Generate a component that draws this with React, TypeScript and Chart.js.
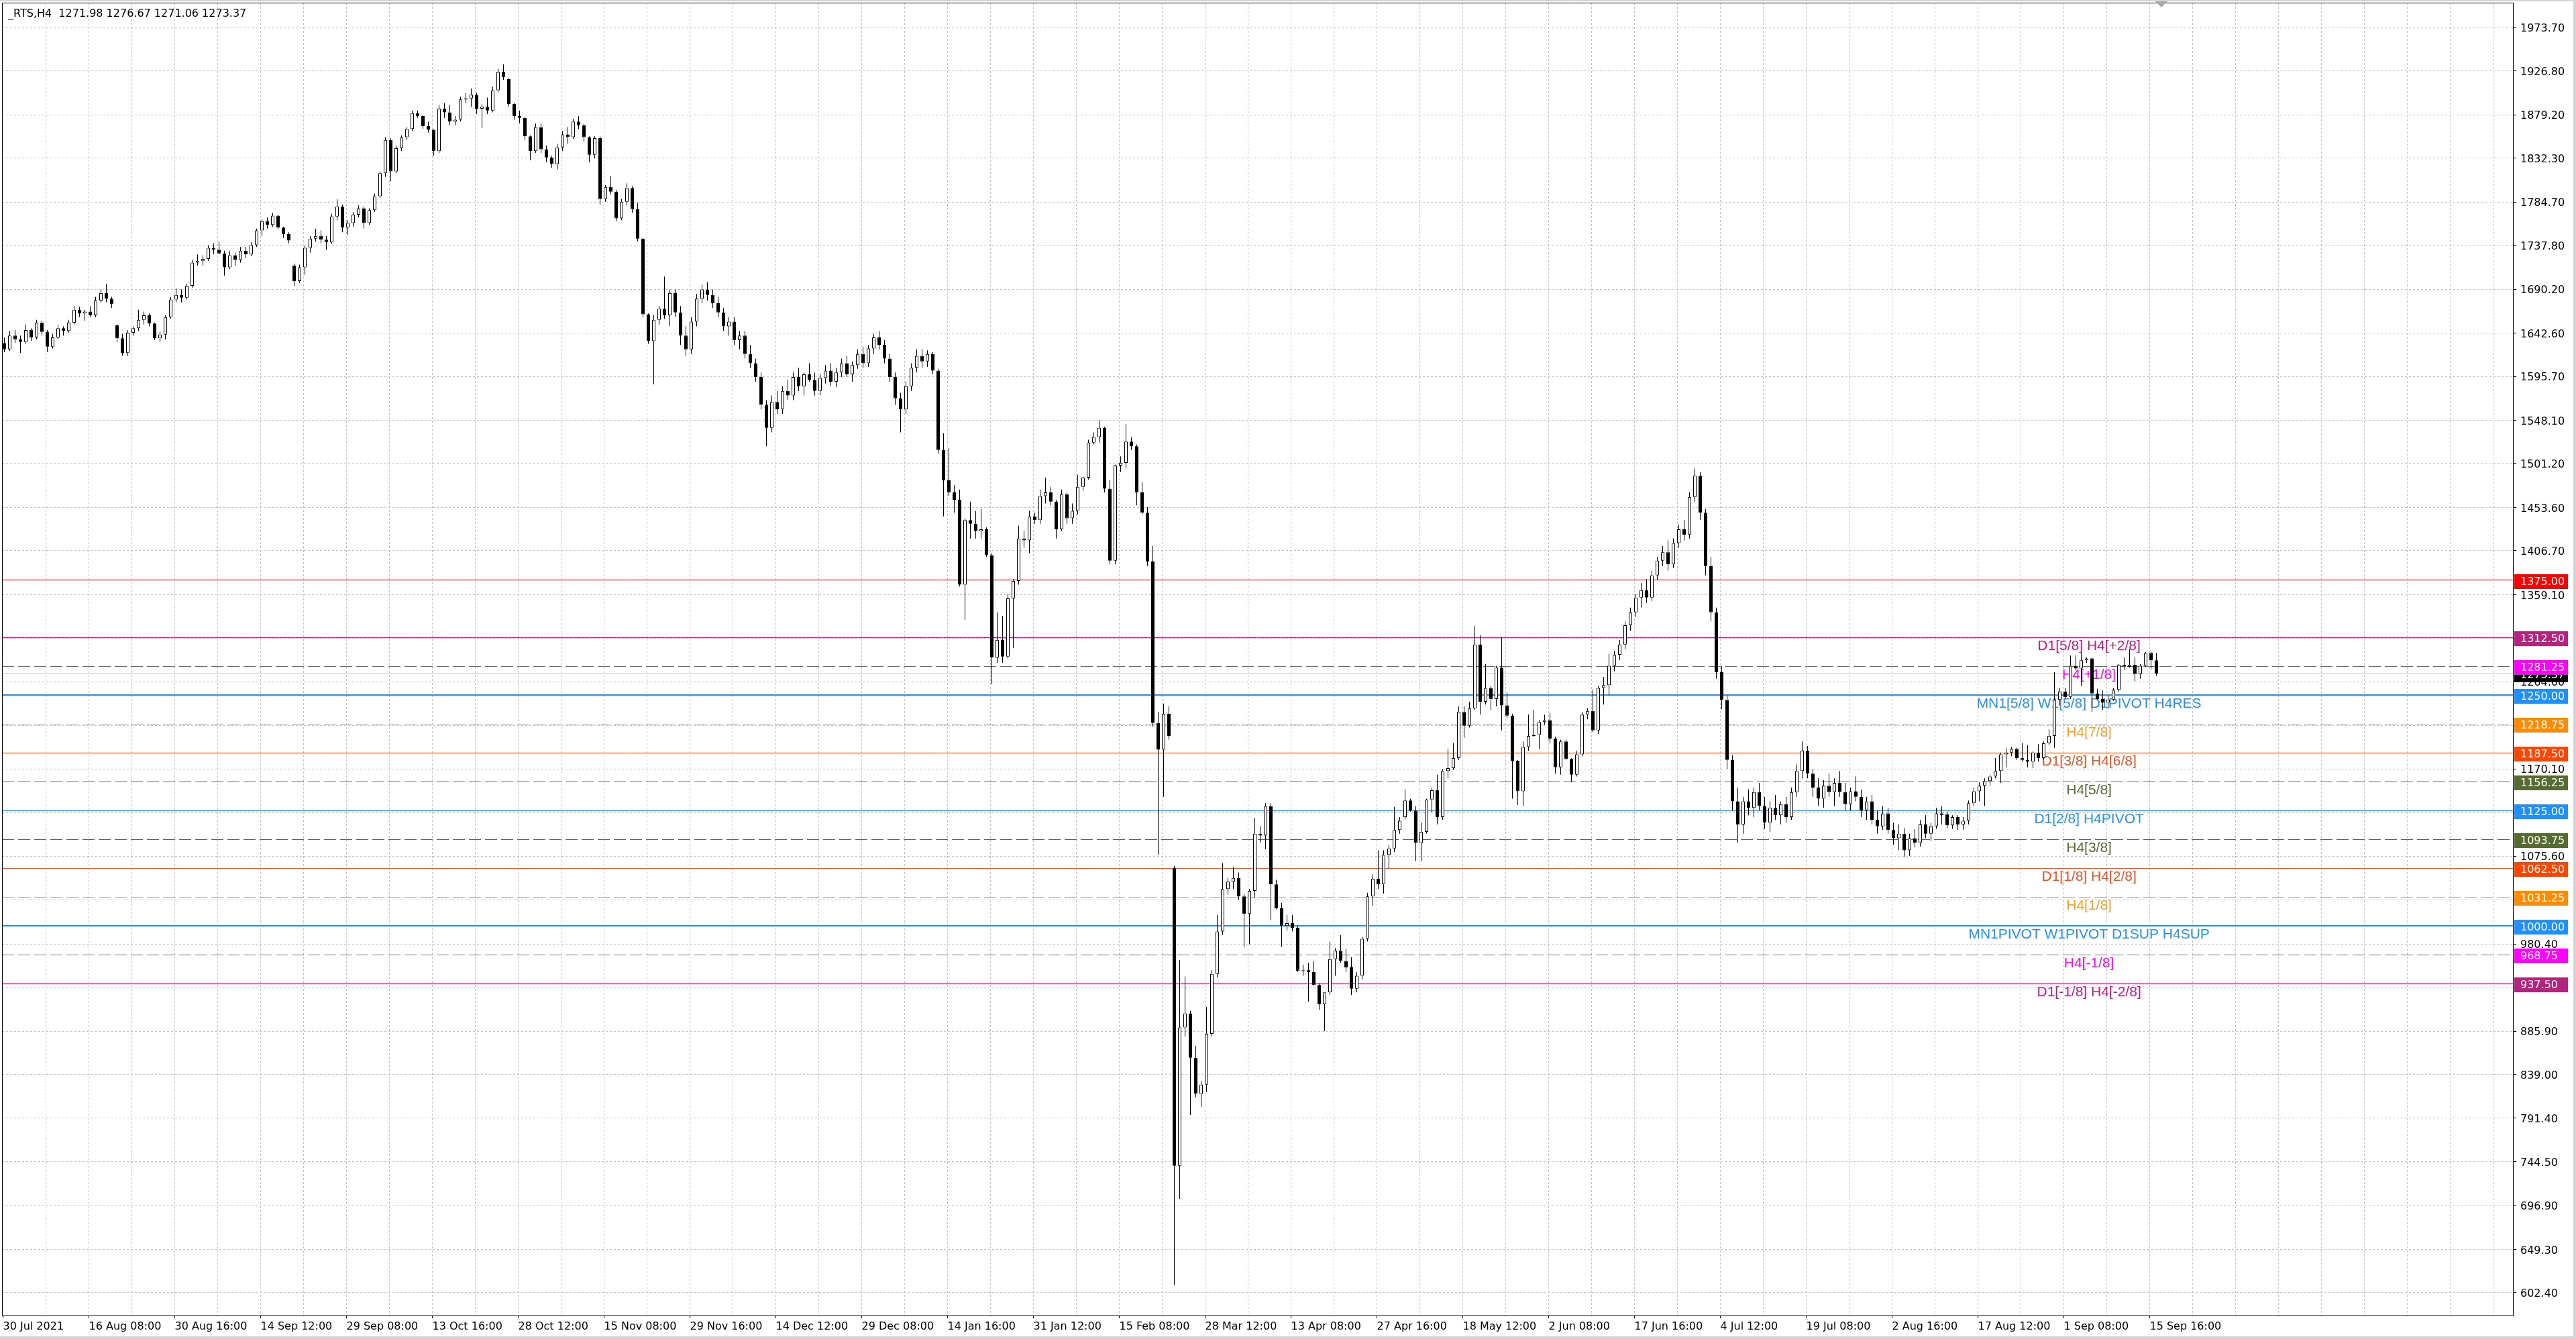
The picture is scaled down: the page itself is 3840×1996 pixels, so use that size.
import React, { useEffect, useRef } from 'react';
import { Chart, registerables } from 'chart.js';

Chart.register(...registerables);

// ---------------- data ----------------
const chartTitle = '_RTS,H4  1271.98 1276.67 1271.06 1273.37';
const lastPrice = 1273.37;

const xTickLabels = [
  '30 Jul 2021', '16 Aug 08:00', '30 Aug 16:00', '14 Sep 12:00', '29 Sep 08:00', '13 Oct 16:00',
  '28 Oct 12:00', '15 Nov 08:00', '29 Nov 16:00', '14 Dec 12:00', '29 Dec 08:00', '14 Jan 16:00',
  '31 Jan 12:00', '15 Feb 08:00', '28 Mar 12:00', '13 Apr 08:00', '27 Apr 16:00', '18 May 12:00',
  '2 Jun 08:00', '17 Jun 16:00', '4 Jul 12:00', '19 Jul 08:00', '2 Aug 16:00', '17 Aug 12:00',
  '1 Sep 08:00', '15 Sep 16:00',
];

const yTickValues = [
  1973.7, 1926.8, 1879.2, 1832.3, 1784.7, 1737.8, 1690.2, 1642.6, 1595.7, 1548.1, 1501.2, 1453.6,
  1406.7, 1359.1, 1311.5, 1264.6, 1217.0, 1170.1, 1122.5, 1075.6, 1028.0, 980.4, 932.8, 885.9,
  839.0, 791.4, 744.5, 696.9, 649.3, 602.4,
];
const yTickLabels = [
  '1973.70', '1926.80', '1879.20', '1832.30', '1784.70', '1737.80', '1690.20', '1642.60', '1595.70',
  '1548.10', '1501.20', '1453.60', '1406.70', '1359.10', '', '1264.60', '', '1170.10', '', '1075.60',
  '', '980.40', '', '885.90', '839.00', '791.40', '744.50', '696.90', '649.30', '602.40',
];

// one candle = two H4 bars
const opens = [
  1632,1625,1640,1636,1633,1646,1638,1654,1644,1628,
  1638,1648,1645,1654,1668,1664,1666,1662,1678,1686,
  1680,1651,1637,1621,1643,1648,1657,1662,1653,1637,
  1641,1660,1679,1684,1681,1694,1719,1721,1723,1735,
  1733,1729,1714,1727,1722,1732,1728,1738,1754,1764,
  1760,1770,1757,1750,1716,1699,1714,1735,1745,1748,
  1744,1741,1769,1780,1757,1762,1771,1778,1762,1776,
  1791,1816,1852,1818,1843,1855,1864,1881,1878,1867,
  1863,1840,1886,1882,1872,1874,1896,1897,1901,1886,
  1888,1884,1906,1926,1918,1891,1878,1876,1856,1840,
  1866,1842,1833,1826,1844,1858,1855,1872,1868,1855,
  1836,1854,1788,1801,1796,1767,1785,1800,1777,1745,
  1663,1634,1657,1669,1662,1686,1665,1640,1625,1655,
  1680,1690,1684,1675,1665,1650,1655,1635,1640,1620,
  1610,1595,1565,1540,1568,1560,1580,1575,1595,1585,
  1598,1592,1580,1594,1602,1590,1600,1610,1598,1608,
  1620,1610,1626,1638,1630,1615,1595,1572,1560,1585,
  1605,1618,1612,1620,1602,1516,1483,1470,1462,1370,
  1440,1436,1428,1430,1402,1291,1310,1292,1355,1374,
  1420,1418,1444,1440,1466,1470,1460,1430,1468,1442,
  1450,1476,1486,1524,1530,1540,1474,1396,1499,1502,
  1525,1520,1470,1448,1395,1220,1191,1230,1063,740,
  890,905,857,818,828,883,948,994,1040,1048,
  1052,1032,1013,1038,1100,1098,1130,1045,1019,1000,
  1003,998,951,952,950,936,915,928,964,973,
  962,955,932,946,986,1032,1051,1045,1077,1084,
  1104,1118,1136,1125,1090,1102,1137,1147,1118,1168,
  1171,1182,1232,1217,1236,1305,1243,1258,1246,1280,
  1239,1228,1179,1146,1194,1206,1207,1221,1223,1203,
  1172,1200,1181,1164,1186,1229,1233,1212,1258,1261,
  1282,1294,1305,1326,1340,1356,1364,1356,1380,1396,
  1405,1392,1415,1430,1424,1465,1488,1448,1390,1340,
  1275,1245,1180,1135,1110,1135,1128,1145,1130,1112,
  1128,1120,1132,1118,1145,1168,1190,1165,1150,1138,
  1152,1145,1155,1145,1132,1146,1140,1125,1135,1115,
  1108,1122,1104,1095,1100,1082,1095,1090,1110,1100,
  1108,1122,1121,1109,1118,1110,1114,1133,1146,1152,
  1157,1162,1168,1186,1188,1192,1182,1180,1178,1188,
  1182,1198,1206,1245,1254,1248,1282,1279,1288,1290,
  1252,1246,1242,1245,1256,1283,1281,1283,1273,1282,
  1296,1288,
];
const highs = [
  1638,1645,1646,1640,1652,1648,1657,1656,1646,1642,
  1652,1650,1657,1672,1671,1668,1672,1682,1690,1696,
  1682,1652,1642,1646,1650,1668,1666,1664,1654,1644,
  1662,1682,1691,1690,1696,1722,1728,1727,1738,1740,
  1742,1732,1732,1730,1736,1736,1741,1756,1766,1768,
  1773,1771,1758,1752,1718,1717,1737,1748,1756,1754,
  1748,1772,1788,1782,1765,1774,1781,1780,1778,1794,
  1818,1855,1854,1846,1857,1866,1884,1884,1879,1872,
  1864,1890,1892,1890,1878,1899,1903,1908,1903,1891,
  1898,1910,1929,1934,1919,1892,1884,1877,1857,1870,
  1870,1846,1835,1848,1862,1866,1875,1878,1870,1856,
  1856,1856,1803,1813,1798,1788,1805,1802,1784,1746,
  1664,1662,1672,1704,1690,1690,1672,1650,1660,1685,
  1695,1698,1690,1682,1670,1660,1660,1645,1645,1630,
  1615,1600,1570,1575,1580,1585,1592,1600,1605,1600,
  1610,1600,1598,1608,1610,1605,1615,1618,1612,1625,
  1628,1630,1642,1645,1635,1620,1600,1578,1590,1610,
  1625,1625,1624,1622,1604,1534,1518,1478,1473,1442,
  1460,1450,1452,1432,1404,1340,1336,1360,1376,1434,
  1428,1450,1448,1473,1486,1476,1462,1473,1470,1458,
  1489,1487,1527,1535,1548,1541,1483,1500,1509,1544,
  1530,1522,1481,1454,1412,1232,1241,1238,1065,963,
  945,908,870,832,912,952,1012,1068,1052,1064,
  1058,1035,1040,1117,1108,1133,1133,1050,1025,1012,
  1012,1000,958,960,962,938,921,983,976,990,
  975,966,950,988,1036,1056,1082,1082,1088,1129,
  1118,1148,1138,1130,1112,1138,1150,1164,1170,1192,
  1198,1238,1238,1243,1325,1315,1284,1260,1282,1313,
  1253,1230,1180,1200,1229,1234,1223,1229,1231,1205,
  1202,1202,1182,1190,1232,1236,1256,1260,1270,1295,
  1298,1310,1330,1345,1360,1372,1376,1385,1400,1412,
  1418,1420,1435,1440,1470,1496,1492,1452,1400,1345,
  1282,1250,1185,1150,1140,1148,1150,1155,1140,1135,
  1142,1135,1140,1150,1175,1200,1195,1170,1160,1158,
  1165,1160,1168,1155,1150,1162,1148,1140,1142,1125,
  1130,1128,1112,1110,1106,1100,1105,1115,1120,1112,
  1128,1130,1124,1120,1120,1118,1136,1150,1156,1160,
  1164,1182,1188,1193,1194,1193,1198,1196,1189,1197,
  1200,1213,1275,1258,1258,1293,1293,1296,1291,1291,
  1257,1255,1250,1258,1284,1291,1300,1291,1284,1297,
  1297,1296,
];
const lows = [
  1622,1623,1632,1621,1631,1634,1636,1640,1622,1626,
  1636,1640,1643,1652,1660,1656,1660,1660,1676,1676,
  1670,1633,1618,1618,1640,1645,1652,1650,1635,1633,
  1636,1658,1676,1676,1679,1692,1716,1716,1721,1728,
  1728,1705,1712,1716,1719,1724,1726,1736,1748,1756,
  1758,1755,1746,1740,1694,1697,1706,1730,1742,1740,
  1733,1739,1765,1752,1749,1758,1768,1756,1760,1774,
  1789,1812,1807,1816,1840,1852,1862,1876,1864,1860,
  1835,1838,1876,1868,1868,1872,1892,1888,1880,1865,
  1880,1882,1904,1917,1888,1874,1870,1852,1830,1838,
  1838,1828,1822,1820,1840,1848,1853,1864,1850,1828,
  1832,1782,1785,1793,1764,1765,1781,1773,1742,1660,
  1631,1587,1652,1658,1650,1660,1630,1618,1620,1650,
  1675,1678,1670,1660,1645,1640,1630,1625,1615,1605,
  1590,1560,1520,1535,1555,1555,1570,1570,1580,1575,
  1590,1575,1575,1588,1585,1584,1595,1595,1590,1604,
  1605,1606,1620,1625,1610,1590,1565,1535,1555,1580,
  1600,1605,1606,1598,1512,1444,1466,1448,1368,1332,
  1420,1420,1420,1400,1262,1285,1285,1290,1301,1370,
  1410,1404,1436,1436,1458,1456,1420,1428,1436,1436,
  1446,1472,1484,1522,1524,1470,1392,1392,1492,1496,
  1516,1456,1446,1390,1216,1077,1140,1202,611,704,
  880,795,814,804,820,880,944,990,1034,1040,
  1028,977,980,1030,1090,1083,1006,1018,977,995,
  994,950,946,918,935,909,886,925,946,960,
  950,925,928,942,983,1022,1040,1035,1062,1080,
  1100,1116,1124,1070,1070,1100,1123,1110,1115,1160,
  1169,1180,1204,1215,1234,1229,1240,1234,1238,1212,
  1225,1138,1131,1130,1190,1205,1192,1218,1198,1165,
  1164,1180,1156,1162,1184,1224,1210,1208,1240,1250,
  1276,1288,1300,1320,1335,1345,1350,1352,1375,1390,
  1385,1388,1410,1418,1420,1460,1440,1380,1330,1268,
  1235,1170,1125,1090,1100,1120,1118,1125,1105,1102,
  1115,1110,1112,1115,1140,1160,1160,1140,1130,1128,
  1140,1130,1140,1125,1125,1135,1118,1115,1110,1100,
  1104,1100,1088,1082,1075,1076,1085,1086,1095,1092,
  1105,1110,1106,1105,1104,1104,1110,1130,1135,1130,
  1152,1160,1155,1172,1184,1180,1178,1172,1171,1178,
  1180,1196,1193,1239,1246,1246,1277,1260,1285,1232,
  1245,1234,1235,1244,1254,1278,1280,1265,1268,1281,
  1278,1271,
];
const closes = [
  1625,1640,1636,1633,1646,1638,1654,1644,1628,1638,
  1648,1645,1654,1668,1664,1666,1662,1678,1686,1680,
  1674,1637,1621,1643,1648,1657,1662,1653,1637,1641,
  1660,1679,1684,1681,1694,1719,1721,1723,1735,1733,
  1729,1714,1727,1722,1732,1728,1738,1754,1764,1760,
  1770,1757,1750,1743,1699,1714,1735,1745,1748,1744,
  1741,1769,1780,1757,1762,1771,1778,1762,1776,1791,
  1816,1852,1818,1843,1855,1864,1881,1878,1867,1863,
  1840,1886,1882,1872,1874,1896,1897,1901,1886,1888,
  1884,1906,1926,1920,1891,1878,1876,1856,1840,1866,
  1842,1833,1826,1844,1858,1855,1872,1868,1855,1836,
  1854,1788,1801,1796,1767,1785,1800,1777,1745,1663,
  1634,1657,1669,1662,1686,1665,1640,1625,1655,1680,
  1690,1684,1675,1665,1650,1655,1635,1640,1620,1610,
  1595,1565,1540,1568,1560,1580,1575,1595,1585,1598,
  1592,1580,1594,1602,1590,1600,1610,1598,1608,1620,
  1610,1626,1638,1630,1615,1595,1572,1560,1585,1605,
  1618,1612,1620,1602,1516,1483,1470,1462,1370,1440,
  1436,1428,1430,1402,1291,1310,1292,1355,1374,1420,
  1418,1444,1440,1466,1470,1460,1430,1468,1442,1450,
  1476,1486,1524,1530,1540,1474,1396,1499,1502,1525,
  1520,1470,1448,1395,1220,1191,1230,1206,740,890,
  905,857,818,828,883,948,994,1040,1048,1052,
  1032,1013,1038,1100,1098,1130,1045,1019,1000,1003,
  998,951,952,950,936,915,928,964,973,962,
  955,932,946,986,1032,1051,1045,1077,1084,1104,
  1114,1136,1125,1090,1102,1137,1147,1118,1168,1171,
  1182,1232,1217,1236,1305,1243,1258,1246,1280,1239,
  1228,1179,1146,1194,1206,1207,1221,1223,1203,1172,
  1200,1181,1164,1186,1229,1233,1212,1258,1261,1282,
  1294,1305,1326,1340,1356,1364,1356,1380,1396,1405,
  1392,1415,1430,1424,1465,1488,1448,1390,1340,1275,
  1245,1180,1135,1110,1135,1128,1145,1130,1112,1128,
  1120,1132,1118,1145,1168,1190,1165,1150,1138,1152,
  1145,1155,1145,1132,1146,1140,1125,1135,1115,1108,
  1122,1104,1095,1100,1082,1095,1090,1110,1100,1108,
  1122,1120,1109,1118,1110,1114,1133,1146,1152,1157,
  1162,1168,1186,1188,1192,1182,1180,1178,1188,1182,
  1198,1206,1245,1254,1248,1282,1279,1288,1290,1252,
  1246,1242,1245,1256,1283,1281,1283,1273,1282,1296,
  1288,1273.37,
];

const levelPrices = [1375, 1312.5, 1281.25, 1250, 1218.75, 1187.5, 1156.25, 1125, 1093.75, 1062.5, 1031.25, 1000, 968.75, 937.5];
const levelTexts = [
  '', 'D1[5/8] H4[+2/8]', 'H4[+1/8]', 'MN1[5/8] W1[5/8] D1PIVOT H4RES', 'H4[7/8]', 'D1[3/8] H4[6/8]',
  'H4[5/8]', 'D1[2/8] H4PIVOT', 'H4[3/8]', 'D1[1/8] H4[2/8]', 'H4[1/8]', 'MN1PIVOT W1PIVOT D1SUP H4SUP',
  'H4[-1/8]', 'D1[-1/8] H4[-2/8]',
];

// ---------------- styles ----------------
const levelLineColors = ['#D42424', '#C71585', '#FF00FF', '#1E90FF', '#F5A020', '#F0501E', '#556B2F', '#1E90FF', '#556B2F', '#F0501E', '#F5A020', '#1E90FF', '#FF00FF', '#C71585'];
const levelBoxColors = ['#FF0000', '#B8227F', '#FF00FF', '#1E90FF', '#FF8C00', '#FF4500', '#556B2F', '#1E90FF', '#556B2F', '#FF4500', '#FF8C00', '#1E90FF', '#FF00FF', '#B8227F'];
const levelDashed = [false, false, true, false, true, false, true, false, true, false, true, false, true, false];
const levelWidths = [1, 1, 1, 2, 1, 1, 1, 1, 1, 1, 1, 2, 1, 1];

const AXIS_FONT = '"DejaVu Sans", Verdana, sans-serif';
const AXIS_SIZE = 16;
const LABEL_FONT = '"Liberation Sans", Arial, sans-serif';
const LABEL_SIZE = 21;
const BARS_PER_CANDLE = 2;
const BARS_PER_LABEL = 32;
const BARS_PER_GRID = 16;
const LEVEL_TEXT_X = 777.4;

export default function App() {
  const ref = useRef<HTMLCanvasElement>(null);

  useEffect(() => {
    const prevMargin = document.body.style.margin;
    document.body.style.margin = '0';
    const canvas = ref.current as HTMLCanvasElement;

    const centers = opens.map((_, k) => k * BARS_PER_CANDLE + 0.5);
    const wickData = opens.map((_, k) => ({ x: centers[k], y: [lows[k], highs[k]] }));
    const bodyData = opens.map((_, k) => ({ x: centers[k], y: [opens[k], closes[k]] }));
    const bodyFill = opens.map((o, k) => (closes[k] >= o ? '#ffffff' : '#000000'));

    const decor: any = {
      id: 'mt4Decor',
      beforeDraw(chart: any) {
        const ctx = chart.ctx;
        ctx.save();
        ctx.fillStyle = '#ffffff';
        ctx.fillRect(0, 0, chart.width, chart.height);
        ctx.restore();
      },
      beforeDatasetsDraw(chart: any) {
        const { ctx, chartArea: a } = chart;
        const x = chart.scales.x;
        const y = chart.scales.y;
        ctx.save();
        ctx.beginPath();
        ctx.rect(a.left, a.top, a.right - a.left, a.bottom - a.top);
        ctx.clip();
        // grid
        ctx.lineWidth = 1;
        ctx.strokeStyle = '#C0C0C0';
        ctx.setLineDash([3, 3]);
        for (let v = BARS_PER_GRID; v < x.max; v += BARS_PER_GRID) {
          const px = Math.floor(x.getPixelForValue(v)) + 0.5;
          ctx.beginPath();
          ctx.moveTo(px, a.top);
          ctx.lineTo(px, a.bottom);
          ctx.stroke();
        }
        yTickValues.forEach((v) => {
          const py = Math.floor(y.getPixelForValue(v)) + 0.5;
          ctx.beginPath();
          ctx.moveTo(a.left, py);
          ctx.lineTo(a.right, py);
          ctx.stroke();
        });
        // bid line
        ctx.setLineDash([]);
        ctx.strokeStyle = '#C0C0C0';
        const bp = Math.floor(y.getPixelForValue(lastPrice)) + 0.5;
        ctx.beginPath();
        ctx.moveTo(a.left, bp);
        ctx.lineTo(a.right, bp);
        ctx.stroke();
        // level lines
        levelPrices.forEach((p, i) => {
          const w = levelWidths[i];
          const raw = y.getPixelForValue(p);
          const py = w % 2 === 1 ? Math.floor(raw) + 0.5 : Math.round(raw);
          ctx.lineWidth = w;
          ctx.strokeStyle = levelLineColors[i];
          ctx.setLineDash(levelDashed[i] ? [18, 6] : []);
          ctx.beginPath();
          ctx.moveTo(a.left, py);
          ctx.lineTo(a.right, py);
          ctx.stroke();
        });
        // level texts
        ctx.setLineDash([]);
        ctx.font = LABEL_SIZE + 'px ' + LABEL_FONT;
        ctx.textAlign = 'center';
        ctx.textBaseline = 'top';
        const tx = x.getPixelForValue(LEVEL_TEXT_X);
        levelPrices.forEach((p, i) => {
          if (!levelTexts[i]) return;
          ctx.fillStyle = levelLineColors[i];
          ctx.fillText(levelTexts[i], tx, Math.round(y.getPixelForValue(p)) + 3);
        });
        ctx.restore();
      },
      afterDraw(chart: any) {
        const { ctx, chartArea: a } = chart;
        const y = chart.scales.y;
        ctx.save();
        // plot frame (left/top)
        ctx.strokeStyle = '#000000';
        ctx.lineWidth = 1;
        ctx.beginPath();
        ctx.moveTo(a.left + 0.5, a.bottom);
        ctx.lineTo(a.left + 0.5, a.top + 0.5);
        ctx.lineTo(a.right, a.top + 0.5);
        ctx.stroke();
        // window frame
        ctx.fillStyle = '#D4D4D4';
        ctx.fillRect(0, 0, chart.width, 2);
        ctx.fillRect(chart.width - 4, 0, 4, chart.height);
        ctx.fillRect(0, chart.height - 4, chart.width, 4);
        // price boxes on the axis
        ctx.font = AXIS_SIZE + 'px ' + AXIS_FONT;
        ctx.textAlign = 'left';
        ctx.textBaseline = 'middle';
        const box = (price: number, color: string) => {
          const cy = Math.round(y.getPixelForValue(price)) + 2;
          ctx.fillStyle = color;
          ctx.fillRect(a.right + 2, cy - 11, 80, 22);
          ctx.fillStyle = '#ffffff';
          ctx.fillText(price.toFixed(2), a.right + 11, cy + 1);
        };
        box(lastPrice, '#000000');
        levelPrices.forEach((p, i) => box(p, levelBoxColors[i]));
        // title
        ctx.fillStyle = '#000000';
        ctx.fillText(chartTitle, 12, 21);
        // chart shift marker
        ctx.fillStyle = '#A8A8A8';
        ctx.beginPath();
        ctx.moveTo(3213, 2);
        ctx.lineTo(3231, 2);
        ctx.lineTo(3222, 11);
        ctx.closePath();
        ctx.fill();
        ctx.restore();
      },
    };

    const chart = new Chart(canvas, {
      type: 'bar',
      data: {
        datasets: [
          {
            data: wickData as any,
            backgroundColor: '#000000',
            borderWidth: 0,
            barThickness: 1,
            grouped: false,
            order: 2,
            inflateAmount: 0,
          } as any,
          {
            data: bodyData as any,
            backgroundColor: bodyFill,
            borderColor: '#000000',
            borderWidth: 1,
            borderSkipped: false,
            barThickness: 5,
            grouped: false,
            order: 1,
            inflateAmount: 0,
          } as any,
        ],
      },
      options: {
        responsive: false,
        animation: false,
        devicePixelRatio: 1,
        events: [],
        layout: { padding: { left: 3, top: 4, right: 0, bottom: 0 } },
        plugins: { legend: { display: false }, tooltip: { enabled: false }, title: { display: false } },
        scales: {
          x: {
            type: 'linear',
            position: 'bottom',
            min: -0.375,
            max: 935.375,
            offset: false,
            grid: { display: true, drawOnChartArea: false, drawTicks: true, tickLength: 4, color: '#000000', offset: false },
            border: { display: true, color: '#000000', width: 1 },
            ticks: {
              autoSkip: false,
              maxRotation: 0,
              minRotation: 0,
              align: 'start',
              padding: 3,
              color: '#000000',
              font: { family: AXIS_FONT, size: AXIS_SIZE },
              callback: (_v: any, i: number) => xTickLabels[i] ?? '',
            },
            afterBuildTicks: (s: any) => {
              s.ticks = xTickLabels.map((_, j) => ({ value: j * BARS_PER_LABEL }));
            },
            afterFit: (s: any) => {
              s.height = 35;
              s.paddingLeft = 0;
              s.paddingRight = 0;
            },
          } as any,
          y: {
            type: 'linear',
            position: 'right',
            min: 577.55,
            max: 2000.83,
            beginAtZero: false,
            grid: { display: true, drawOnChartArea: false, drawTicks: true, tickLength: 5, color: '#000000' },
            border: { display: true, color: '#000000', width: 1 },
            ticks: {
              autoSkip: false,
              padding: 6,
              labelOffset: 2,
              color: '#000000',
              font: { family: AXIS_FONT, size: AXIS_SIZE },
              callback: (_v: any, i: number) => yTickLabels[i] ?? '',
            },
            afterBuildTicks: (s: any) => {
              s.ticks = yTickValues.map((v) => ({ value: v }));
            },
            afterFit: (s: any) => {
              s.width = 94;
              s.paddingTop = 0;
              s.paddingBottom = 0;
            },
          } as any,
        },
      } as any,
      plugins: [decor],
    });

    return () => {
      chart.destroy();
      document.body.style.margin = prevMargin;
    };
  }, []);

  return (
    <div style={{ position: 'absolute', left: 0, top: 0, width: 3840, height: 1996, background: '#ffffff' }}>
      <canvas ref={ref} width={3840} height={1996} style={{ display: 'block', width: 3840, height: 1996 }} />
    </div>
  );
}
